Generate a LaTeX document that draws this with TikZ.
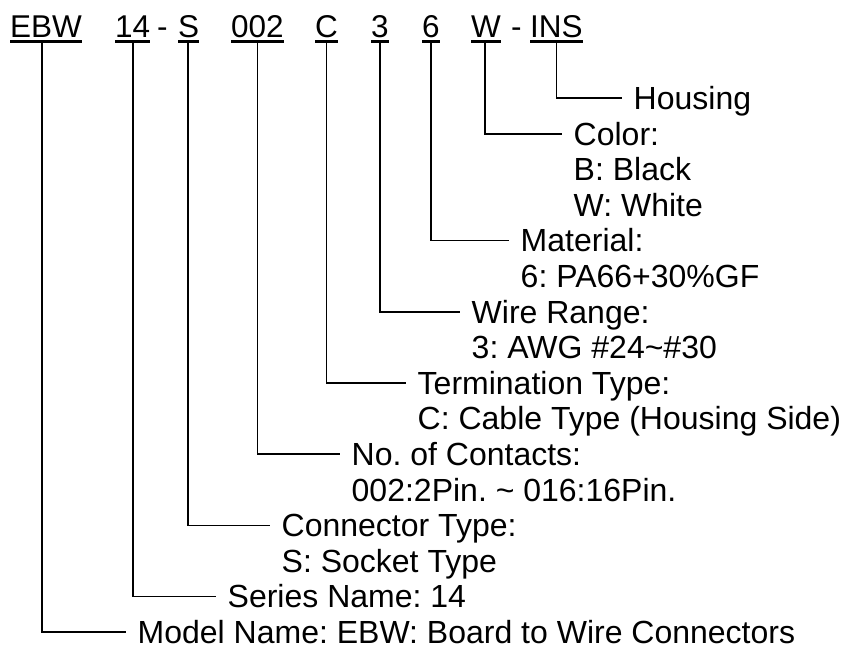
\documentclass[tikz,border=0pt]{standalone}
\usepackage{fontspec}
\setmainfont{Liberation Sans}
\tikzset{
	code/.style={font=\fontsize{31.5}{35.6}\selectfont, inner sep=0pt, anchor=base west},
	desc/.style={font=\fontsize{32}{35.6}\selectfont, inner xsep=12pt, inner ysep=0pt, anchor=base west},
	leader/.style={line width=1.6pt},
	uline/.style={line width=2.8pt}
}
\begin{document}
\frenchspacing
\begin{tikzpicture}[x=1pt,y=-1pt]
\useasboundingbox (0,0) rectangle (842,645);
\foreach \n/\t/\x in {ebw/EBW/10, n14/14/115, s/S/178, n002/002/231, c/C/315, n3/3/371, n6/6/422, w/W/471, ins/INS/530}
	\node[code] (\n) at (\x,37) {\t};
\node[code] (dasha) at (157,37) {-};
\node[code] (dashb) at (511,37) {-};
\foreach \n in {ebw,n14,s,n002,c,n3,n6,w,ins}
	\draw[uline] ([yshift=-4.5pt]\n.base west) -- ([yshift=-4.5pt]\n.base east);

\node[desc] (housing) at (621.5,109.5) {Housing};
\node[desc] (color) at (561.5,145.1) {Color:};
\node[desc] (black) at (561.5,180.7) {B: Black};
\node[desc] (white) at (561.5,216.3) {W: White};
\node[desc] (material) at (508.5,251.9) {Material:};
\node[desc] (pa) at (508.5,287.5) {6: PA66+30\%GF};
\node[desc] (wire) at (459.5,323.1) {Wire Range:};
\node[desc] (awg) at (459.5,358.7) {3: AWG \#24\textasciitilde\#30};
\node[desc] (term) at (405.5,394.3) {Termination Type:};
\node[desc] (cable) at (405.5,429.9) {C: Cable Type (Housing Side)};
\node[desc] (contacts) at (339.5,465.5) {No. of Contacts:};
\node[desc] (pins) at (339.5,501.1) {002:2Pin. \textasciitilde{} 016:16Pin.};
\node[desc] (conn) at (269.5,536.7) {Connector Type:};
\node[desc] (socket) at (269.5,572.3) {S: Socket Type};
\node[desc] (series) at (215.5,607.9) {Series Name: 14};
\node[desc] (model) at (125.5,643.3) {Model Name: EBW: Board to Wire Connectors};

\foreach \a/\b/\s in {ebw/model/-4, n14/series/0, s/conn/-1, n002/contacts/0, c/term/0, n3/wire/0, n6/material/0, w/color/-1, ins/housing/0}
	\draw[leader] ([xshift=\s pt,yshift=-4.5pt]\a.south) |- ([yshift=11.4pt]\b.base west);
\end{tikzpicture}
\end{document}
